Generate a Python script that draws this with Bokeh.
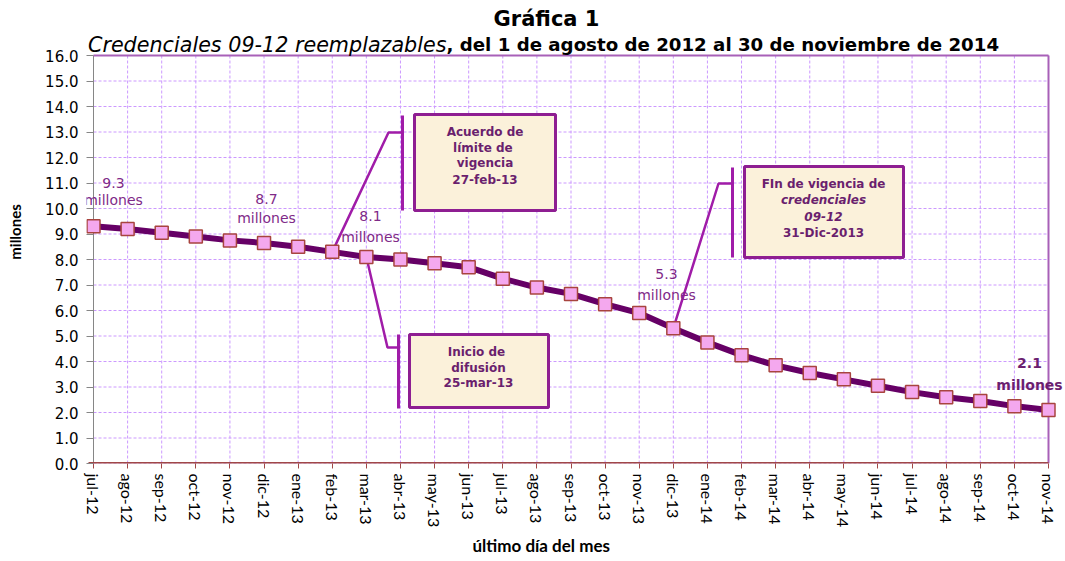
from bokeh.plotting import figure
from bokeh.models import (Range1d, FixedTicker, PrintfTickFormatter,
                          BoxAnnotation, Label, ColumnDataSource, Title)
from bokeh.embed import file_html
from bokeh.resources import INLINE

# ---------------- data ----------------
months = ["jul-12", "ago-12", "sep-12", "oct-12", "nov-12", "dic-12",
          "ene-13", "feb-13", "mar-13", "abr-13", "may-13", "jun-13",
          "jul-13", "ago-13", "sep-13", "oct-13", "nov-13", "dic-13",
          "ene-14", "feb-14", "mar-14", "abr-14", "may-14", "jun-14",
          "jul-14", "ago-14", "sep-14", "oct-14", "nov-14"]
values = [9.3, 9.2, 9.05, 8.9, 8.75, 8.65,
          8.5, 8.3, 8.1, 8.0, 7.85, 7.7,
          7.25, 6.9, 6.65, 6.25, 5.9, 5.3,
          4.75, 4.25, 3.85, 3.55, 3.3, 3.05,
          2.8, 2.6, 2.45, 2.25, 2.1]
y_ticks = [float(v) for v in range(0, 17)]
y_max = 16.0

title_text = "Gráfica 1"
subtitle_italic = "Credenciales 09-12 reemplazables"
subtitle_bold = ", del 1 de agosto de 2012 al 30 de noviembre de 2014"
x_label = "último día del mes"
y_label = "millones"

point_labels = [(0, "9.3"), (5, "8.7"), (8, "8.1"), (17, "5.3"), (28, "2.1")]

# ---------------- layout helpers (page pixels -> data) ----------------
X0, DX = 93.0, (1048.0 - 93.0) / 28.0
Y0, DY = 463.0, (463.0 - 55.0) / 16.0


def px(x):
    return (x - X0) / DX


def py(y):
    return (Y0 - y) / DY


W, H = 1065, 561
FL, FB = 86, 463  # frame left / bottom in page pixels

x_idx = list(range(len(months)))
last = x_idx[-1]
src = ColumnDataSource(dict(x=x_idx, y=values))

p = figure(width=W, height=H, output_backend="svg", toolbar_location=None,
           title=None,
           x_range=Range1d(px(FL), px(W)), y_range=Range1d(0, py(0)),
           min_border_left=FL, min_border_right=0, min_border_top=0,
           min_border_bottom=H - FB, outline_line_color=None,
           background_fill_color="white", border_fill_color="white")

# axes
xa = p.xaxis[0]
xa.ticker = FixedTicker(ticks=x_idx)
xa.major_label_overrides = {i: m for i, m in enumerate(months)}
xa.major_label_orientation = "vertical"
xa.major_label_text_font = "Lato"
xa.major_label_text_font_size = "16px"
xa.major_label_text_color = "black"
xa.axis_line_color = None
xa.major_tick_line_color = "#A04848"
xa.major_tick_out = 5
xa.major_tick_in = 0
xa.minor_tick_line_color = None
xa.major_label_standoff = 5

# x-axis title, placed under the centre of the plot area
p.add_layout(Title(text=x_label, align="left", offset=472 - FL, text_font="Lato",
                   text_font_size="17px", text_font_style="bold",
                   text_color="black", standoff=4), "below")

ya = p.yaxis[0]
ya.ticker = FixedTicker(ticks=y_ticks)
ya.formatter = PrintfTickFormatter(format="%.1f")
ya.major_label_text_font = "DejaVu Sans"
ya.major_label_text_font_size = "15px"
ya.major_label_text_color = "black"
ya.axis_line_color = None
ya.major_tick_line_color = "#868686"
ya.major_tick_in = 7
ya.major_tick_out = 0
ya.minor_tick_line_color = None
ya.major_label_standoff = 8
ya.axis_label = y_label
ya.axis_label_text_font = "Lato"
ya.axis_label_text_font_size = "15px"
ya.axis_label_text_font_style = "bold"
ya.axis_label_text_color = "black"
ya.axis_label_standoff = 18

p.xgrid.visible = False
p.ygrid.visible = False

# dashed grid limited to the plot area
grid_col = "#CC99FF"
p.segment(x0=x_idx, x1=x_idx, y0=[0.0] * len(x_idx), y1=[y_max] * len(x_idx),
          line_color=grid_col, line_dash="3 2", line_width=1)
p.segment(x0=[0.0] * len(y_ticks), x1=[float(last)] * len(y_ticks),
          y0=y_ticks, y1=y_ticks, line_color=grid_col, line_dash="3 2", line_width=1)

# plot-area borders
p.segment(x0=[0.0], x1=[0.0], y0=[0.0], y1=[y_max], line_color="#868686", line_width=1)
p.segment(x0=[float(last)], x1=[float(last)], y0=[0.0], y1=[y_max],
          line_color="#A860B8", line_width=2)
p.segment(x0=[0.0], x1=[float(last)], y0=[y_max], y1=[y_max],
          line_color="#A860B8", line_width=2)
p.segment(x0=[px(88)], x1=[float(last)], y0=[0.0], y1=[0.0],
          line_color="#A04848", line_width=3)

# callout connectors and boxes
conn_color = "#A01CA8"
box_line = "#8E1E92"
box_fill = "#FBF1DA"
txt_color = "#6A1F6E"

callouts = [
    # (point index, knee px, knee py, bar px, bar top py, bar bottom py, box l, r, t, b)
    (7, 388, 132, 402, 115, 210, 414, 555, 114, 210),
    (8, 387, 347, 398, 334, 408, 409, 548, 334, 407),
    (17, 718, 183, 732, 167, 257, 744, 903, 166, 257),
]
for (i, kx, ky, bx, bt, bb, l, r, t, b) in callouts:
    p.line([x_idx[i], px(kx), px(bx)], [values[i], py(ky), py(ky)],
           line_color=conn_color, line_width=2.5)
    p.line([px(bx), px(bx)], [py(bt), py(bb)], line_color=conn_color, line_width=3)
    p.add_layout(BoxAnnotation(left=px(l), right=px(r), top=py(t), bottom=py(b),
                               fill_color=box_fill, fill_alpha=1.0,
                               line_color=box_line, line_alpha=1.0, line_width=3))

# main series
p.line("x", "y", source=src, line_color="#660066", line_width=6)
p.scatter("x", "y", source=src, marker="square", size=13,
          fill_color="#F4A8EE", line_color="#A8443F", line_width=1.5)

# box texts
box_texts = [
    (484.5, [(131, "Acuerdo de", "bold"), (147, "límite  de", "bold"),
             (162, "vigencia", "bold"), (179, "27-feb-13", "bold")]),
    (478, [(351, "Inicio  de", "bold"), (367, "difusión", "bold"),
           (382, "25-mar-13", "bold")]),
    (823, [(183, "FIn de vigencia de", "bold"), (199, "credenciales", "bold italic"),
           (216, "09-12", "bold italic"), (232, "31-Dic-2013", "bold")]),
]
for cx, lines in box_texts:
    for (yy, t, st) in lines:
        p.add_layout(Label(x=px(cx), y=py(yy), text=t, text_align="center",
                           text_baseline="middle", text_font="DejaVu Sans",
                           text_font_size="12px", text_font_style=st,
                           text_color=txt_color))

# point value labels
lab_pos = {0: (113, 182, 199), 5: (266, 198, 217), 8: (370, 215, 236),
           17: (666, 273, 294), 28: (1029, 362, 384)}
for i, t in point_labels:
    cx, y1, y2 = lab_pos[i]
    st = "bold" if i == last else "normal"
    col = "#6B1E70" if st == "bold" else "#7F2A88"
    for yy, tt in ((y1, t), (y2, "millones")):
        p.add_layout(Label(x=px(cx), y=py(yy), text=tt, text_align="center",
                           text_baseline="middle", text_font="DejaVu Sans",
                           text_font_size="14px", text_font_style=st,
                           text_color=col))

# titles
p.add_layout(Label(x=px(546), y=py(18), text=title_text, text_align="center",
                   text_baseline="middle", text_font="DejaVu Sans",
                   text_font_size="21px", text_font_style="bold", text_color="black"))
p.add_layout(Label(x=px(446), y=py(44), text=subtitle_italic, text_align="right",
                   text_baseline="middle", text_font="DejaVu Sans",
                   text_font_size="20.7px", text_font_style="italic", text_color="black"))
p.add_layout(Label(x=px(446), y=py(44), text=subtitle_bold, text_align="left",
                   text_baseline="middle", text_font="DejaVu Sans",
                   text_font_size="18.2px", text_font_style="bold", text_color="black"))

open("out.html", "w").write(file_html(p, INLINE))
